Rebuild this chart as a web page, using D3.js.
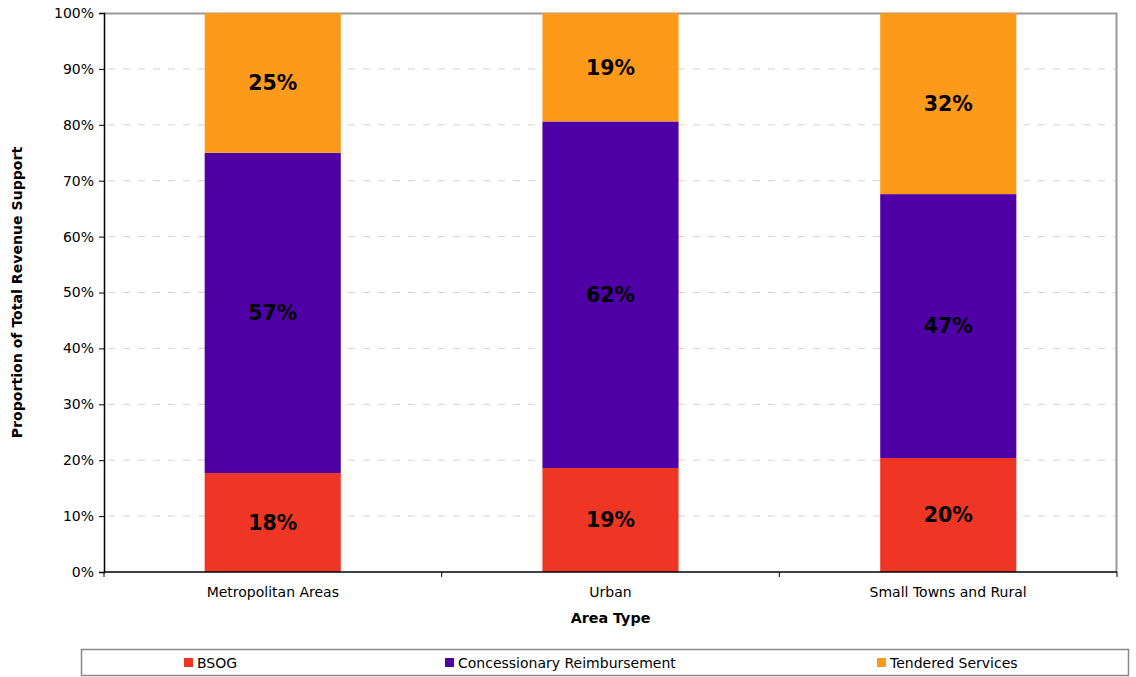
<!DOCTYPE html>
<html>
<head>
<meta charset="utf-8">
<script src="https://cdn.jsdelivr.net/npm/d3@7"></script>
<style>
  html, body { margin: 0; padding: 0; background: #fff; }
  svg { display: block; font-family: "DejaVu Sans", Verdana, sans-serif; }
</style>
</head>
<body>
<svg id="chart" width="1136" height="677"></svg>
<script>
// Share of total revenue support by area type (percent)
const categories = ["Metropolitan Areas", "Urban", "Small Towns and Rural"];
const seriesNames = ["BSOG", "Concessionary Reimbursement", "Tendered Services"];
const bsog = [17.7, 18.6, 20.4];
const concessionary = [57.3, 62.0, 47.2];
const tendered = [25.0, 19.4, 32.4];
const yTicks = [0, 10, 20, 30, 40, 50, 60, 70, 80, 90, 100];
const colors = ["#EF3524", "#4F00A7", "#FD9A1A"];

const rows = categories.map((c, i) => ({
  category: c,
  "BSOG": bsog[i],
  "Concessionary Reimbursement": concessionary[i],
  "Tendered Services": tendered[i]
}));

const svg = d3.select("#chart");
const margin = { left: 104, right: 19, top: 13, bottom: 105 };
const W = 1136, H = 677;
const innerW = W - margin.left - margin.right;
const innerH = H - margin.top - margin.bottom;
const FONT = "DejaVu Sans, Verdana, sans-serif";

const g = svg.append("g").attr("transform", `translate(${margin.left},${margin.top})`);

const x = d3.scaleBand().domain(categories).range([0, innerW]).paddingInner(0.597).paddingOuter(0.298);
const bandX = d3.scaleBand().domain(categories).range([0, innerW]);
const y = d3.scaleLinear().domain([0, 100]).range([innerH, 0]);
const color = d3.scaleOrdinal().domain(seriesNames).range(colors);

// dashed horizontal gridlines
g.append("g").selectAll("line")
  .data(yTicks.filter(t => t > 0 && t < 100))
  .join("line")
  .attr("x1", 4).attr("x2", innerW)
  .attr("y1", d => y(d)).attr("y2", d => y(d))
  .attr("stroke", "#d4d4c8").attr("stroke-width", 1)
  .attr("stroke-dasharray", "7,8");

// top and right frame
g.append("path")
  .attr("d", `M0,0.5H${innerW - 0.5}V${innerH}`)
  .attr("fill", "none").attr("stroke", "#999").attr("stroke-width", 2);

// stacked bars
const stack = d3.stack().keys(seriesNames)(rows);
const layers = g.append("g").selectAll("g")
  .data(stack).join("g")
  .attr("fill", d => color(d.key));

layers.selectAll("rect")
  .data(d => d.map(p => ({ p, key: d.key })))
  .join("rect")
  .attr("x", d => x(d.p.data.category))
  .attr("width", x.bandwidth())
  .attr("y", d => y(d.p[1]))
  .attr("height", d => y(d.p[0]) - y(d.p[1]));

// value labels
const fmt = v => Math.round(v) + "%";
layers.selectAll("text")
  .data(d => d.map(p => ({ p, key: d.key })))
  .join("text")
  .attr("x", d => x(d.p.data.category) + x.bandwidth() / 2)
  .attr("y", d => (y(d.p[0]) + y(d.p[1])) / 2)
  .attr("dy", "0.36em")
  .attr("text-anchor", "middle")
  .attr("fill", "#000")
  .attr("font-weight", "bold")
  .attr("font-size", 20.5)
  .text(d => fmt(d.p[1] - d.p[0]));

// y axis
const yAxis = g.append("g")
  .call(d3.axisLeft(y).tickValues(yTicks).tickFormat(d => d + "%").tickSizeOuter(0).tickSize(5));
yAxis.select(".domain").attr("stroke", "#000").attr("stroke-width", 1.5);
yAxis.selectAll(".tick line").attr("stroke", "#000");
yAxis.selectAll(".tick text").attr("font-size", 14).attr("fill", "#000")
  .attr("font-family", FONT).attr("x", -10);

// x axis with ticks at category boundaries
const xAxisG = g.append("g").attr("transform", `translate(0,${innerH})`);
xAxisG.append("line").attr("x1", 0).attr("x2", innerW).attr("stroke", "#000").attr("stroke-width", 1.5);
xAxisG.selectAll("line.tk")
  .data([0, ...categories.map(c => bandX(c) + bandX.bandwidth())])
  .join("line").attr("class", "tk")
  .attr("x1", d => d).attr("x2", d => d).attr("y1", 0).attr("y2", 5)
  .attr("stroke", "#000");
xAxisG.selectAll("text")
  .data(categories).join("text")
  .attr("x", d => bandX(d) + bandX.bandwidth() / 2)
  .attr("y", 25)
  .attr("text-anchor", "middle")
  .attr("font-size", 14).attr("fill", "#000")
  .text(d => d);

// axis titles
svg.append("text")
  .attr("x", margin.left + innerW / 2).attr("y", 623)
  .attr("text-anchor", "middle").attr("font-weight", "bold").attr("font-size", 14.3)
  .text("Area Type");
svg.append("text")
  .attr("transform", `translate(22,${margin.top + innerH / 2}) rotate(-90)`)
  .attr("text-anchor", "middle").attr("font-weight", "bold").attr("font-size", 14.1)
  .text("Proportion of Total Revenue Support");

// legend
const legend = svg.append("g");
legend.append("rect")
  .attr("x", 81.5).attr("y", 649.5).attr("width", 1047).attr("height", 26)
  .attr("fill", "#fff").attr("stroke", "#888").attr("stroke-width", 1.5);
const legendX = [184, 445, 877];
const items = legend.selectAll("g.item").data(seriesNames).join("g")
  .attr("class", "item")
  .attr("transform", (d, i) => `translate(${legendX[i]},658)`);
items.append("rect").attr("width", 9).attr("height", 9).attr("fill", d => color(d));
items.append("text").attr("x", 13).attr("y", 5).attr("dy", "0.36em")
  .attr("font-size", 14).attr("fill", "#000").text(d => d);
</script>
</body>
</html>
